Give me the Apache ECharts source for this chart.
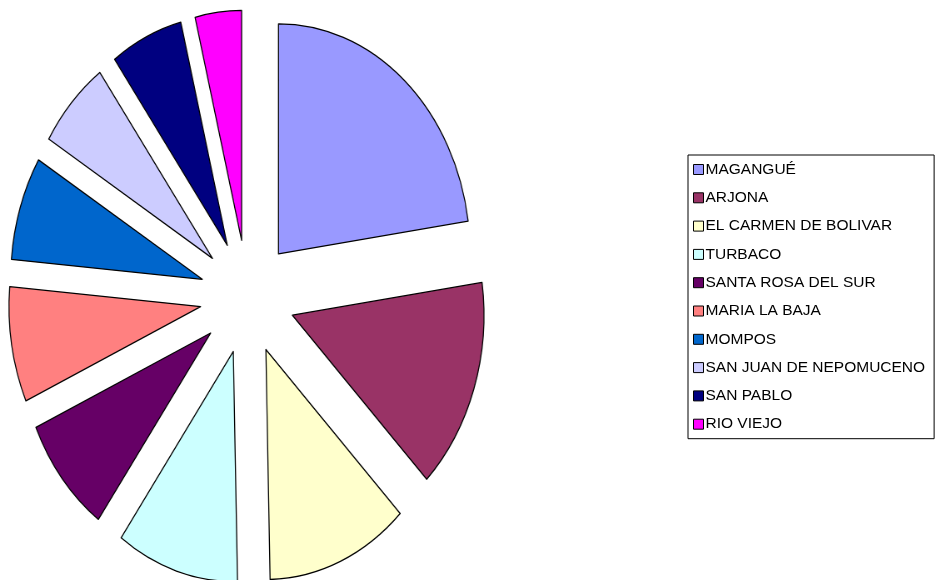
<!DOCTYPE html>
<html>
<head>
<meta charset="utf-8">
<script src="https://cdn.jsdelivr.net/npm/echarts@6/dist/echarts.min.js"></script>
<style>
  html, body { margin: 0; padding: 0; background: #fff; }
  .wrap { position: relative; width: 935px; height: 580px; overflow: hidden; }
  /* pie is drawn as a circle, then squeezed into the ellipse of the original */
  #pie { position: absolute; left: 0; top: 0; width: 600px; height: 580px; transform: scaleX(0.833); transform-origin: 0 0; }
  #legend { position: absolute; left: 0; top: 0; width: 935px; height: 580px; }
</style>
</head>
<body>
<div class="wrap">
  <div id="pie"></div>
  <div id="legend"></div>
</div>
<script>
// municipios y su participación (%)
const municipios = ['MAGANGUÉ', 'ARJONA', 'EL CARMEN DE BOLIVAR', 'TURBACO', 'SANTA ROSA DEL SUR',
  'MARIA LA BAJA', 'MOMPOS', 'SAN JUAN DE NEPOMUCENO', 'SAN PABLO', 'RIO VIEJO']
const valores = [22.7, 14.9, 12.0, 10.3, 8.3, 8.1, 7.3, 6.3, 6.1, 3.9]
const colores = ['#9999FF', '#993366', '#FFFFCC', '#CCFFFF', '#660066',
  '#FF8080', '#0066CC', '#CCCCFF', '#000080', '#FF00FF']

const fontFamily = '"Liberation Sans", Arial, sans-serif'

function buildData(selected) {
  return municipios.map((name, i) => {
    return {
      name: name,
      value: valores[i],
      selected: selected,
      itemStyle: { color: colores[i] }
    }
  })
}

const pieChart = echarts.init(document.getElementById('pie'))
pieChart.setOption({
  animation: false,
  series: [
    {
      type: 'pie',
      center: [297, 297],
      radius: [0, 230],
      startAngle: 90,
      clockwise: true,
      selectedMode: 'multiple',
      selectedOffset: 57,
      label: { show: false },
      labelLine: { show: false },
      emphasis: { disabled: true },
      itemStyle: { borderColor: '#000', borderWidth: 1.3 },
      data: buildData(true)
    }
  ]
})

// legend lives in its own (unscaled) chart so the text is not squeezed
const legendChart = echarts.init(document.getElementById('legend'))
legendChart.setOption({
  animation: false,
  legend: {
    orient: 'vertical',
    left: 688,
    top: 155,
    padding: [6, 9, 6, 5],
    borderColor: '#000',
    borderWidth: 1,
    itemGap: 11.3,
    itemWidth: 10,
    itemHeight: 10,
    icon: 'rect',
    selectedMode: false,
    itemStyle: { borderColor: '#000', borderWidth: 1 },
    textStyle: { fontFamily: fontFamily, fontSize: 15.5, color: '#000', lineHeight: 17, padding: [0, 0, 0, -3] },
    data: municipios
  },
  series: [
    {
      type: 'pie',
      center: [-100, -100],
      radius: [0, 1],
      silent: true,
      label: { show: false },
      labelLine: { show: false },
      data: buildData(false)
    }
  ]
})
</script>
</body>
</html>
